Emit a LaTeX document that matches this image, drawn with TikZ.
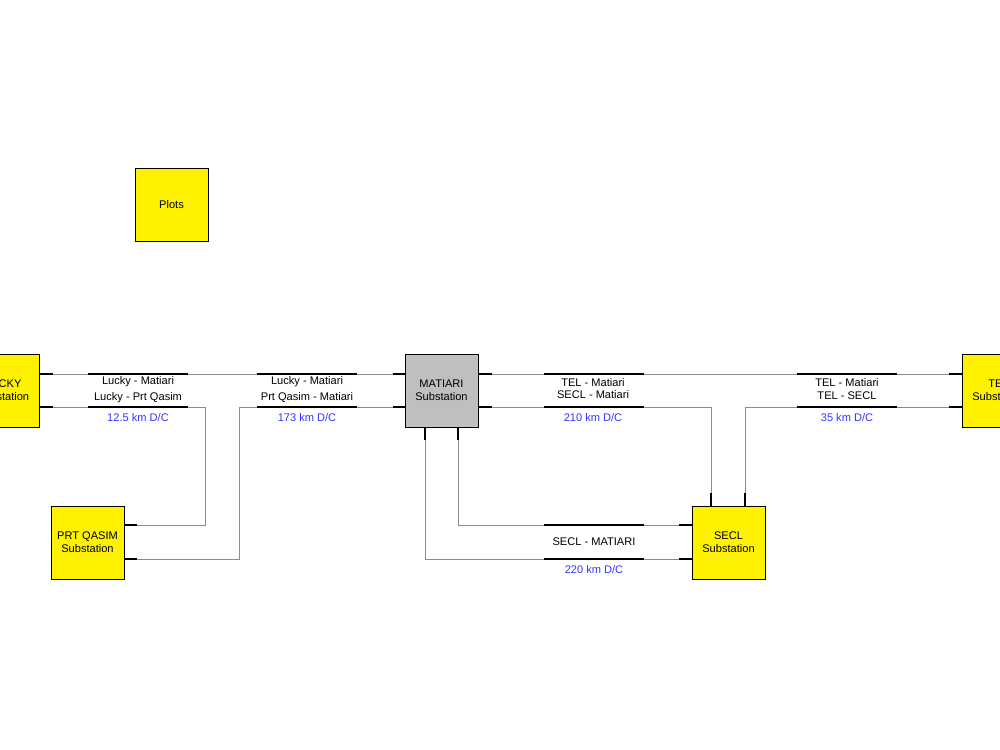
\documentclass[tikz,border=0pt]{standalone}
\usepackage{fontspec}
\setmainfont{Liberation Sans}
\begin{document}
\begin{tikzpicture}[x=0.02cm,y=-0.02cm,
  box/.style={draw=black,fill=yellow,minimum width=1.46cm,minimum height=1.46cm,align=center,inner sep=0pt,font=\fontsize{6.3}{7.5}\selectfont},
  wire/.style={draw=black!45,line width=0.5pt},
  bus/.style={draw=black,line width=1.2pt},
  lab/.style={font=\fontsize{6.3}{7.5}\selectfont,inner sep=0pt},
  km/.style={lab,text=blue!80}]
\useasboundingbox (0,0) rectangle (1000,750);
\clip (0,0) rectangle (1000,750);
% wires
\draw[wire] (40,374) -- (962,374);
\draw[wire] (40,407) -- (205,407) -- (205,525) -- (124,525);
\draw[wire] (124,559) -- (239,559) -- (239,407) -- (405,407);
\draw[wire] (478,407) -- (711,407) -- (711,506);
\draw[wire] (962,407) -- (745,407) -- (745,506);
\draw[wire] (458,427) -- (458,525) -- (692,525);
\draw[wire] (425,427) -- (425,559) -- (692,559);
% nodes
\node[box] (lucky) at (3,390.5) {LUCKY\\Substation};
\node[box] (plots) at (171.5,204.5) {Plots};
\node[box] (prt) at (87.5,542.5) {PRT QASIM\\Substation};
\node[box,fill=black!25] (mat) at (441.5,390.5) {MATIARI\\Substation};
\node[box] (secl) at (728.5,542.5) {SECL\\Substation};
\node[box] (tel) at (998.5,390.5) {TEL\\Substation};
% stubs
\foreach \y in {374,407}{
  \draw[bus] (40,\y) -- (53,\y);
  \draw[bus] (88,\y) -- (188,\y);
  \draw[bus] (257,\y) -- (357,\y);
  \draw[bus] (393,\y) -- (405,\y);
  \draw[bus] (478,\y) -- (492,\y);
  \draw[bus] (544,\y) -- (644,\y);
  \draw[bus] (797,\y) -- (897,\y);
  \draw[bus] (949,\y) -- (962,\y);}
\foreach \y in {525,559}{
  \draw[bus] (124,\y) -- (137,\y);
  \draw[bus] (544,\y) -- (644,\y);
  \draw[bus] (679,\y) -- (692,\y);}
\draw[bus] (425,427) -- (425,440);
\draw[bus] (458,427) -- (458,440);
\draw[bus] (711,493) -- (711,506);
\draw[bus] (745,493) -- (745,506);
% labels
\node[lab] (l1) at (138,382) {Lucky - Matiari};
\node[lab] (l2) at (138,397.5) {Lucky - Prt Qasim};
\node[km] (l3) at (138,417.5) {12.5 km D/C};
\node[lab] (m1) at (307,382) {Lucky - Matiari};
\node[lab] (m2) at (307,397.5) {Prt Qasim - Matiari};
\node[km] (m3) at (307,417.5) {173 km D/C};
\node[lab] (t1) at (593,382.5) {TEL - Matiari};
\node[lab] (t2) at (593,395) {SECL - Matiari};
\node[km] (t3) at (593,417.5) {210 km D/C};
\node[lab] (u1) at (847,382.5) {TEL - Matiari};
\node[lab] (u2) at (847,395.5) {TEL - SECL};
\node[km] (u3) at (847,417.5) {35 km D/C};
\node[lab] (s1) at (594,541.5) {SECL - MATIARI};
\node[km] (s2) at (594,569.5) {220 km D/C};
\end{tikzpicture}
\end{document}
